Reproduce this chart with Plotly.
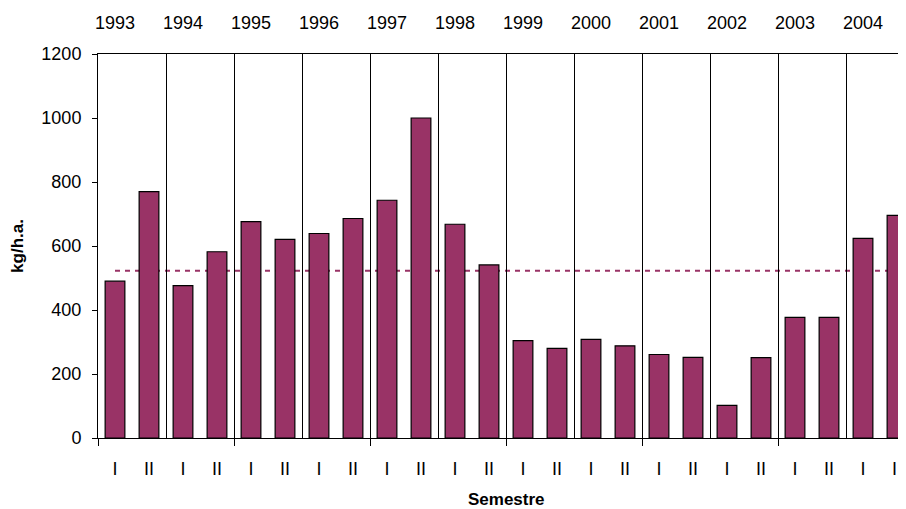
import plotly.graph_objects as go

# ── 데이터 ──
YEARS = [1993, 1994, 1995, 1996, 1997, 1998, 1999, 2000, 2001, 2002, 2003, 2004]
SEMESTRES = ["I", "II"]
VALUES = [
    490, 770,   # 1993
    476, 582,   # 1994
    676, 621,   # 1995
    639, 686,   # 1996
    743, 1000,  # 1997
    668, 541,   # 1998
    304, 280,   # 1999
    308, 288,   # 2000
    261, 252,   # 2001
    102, 251,   # 2002
    377, 377,   # 2003
    624, 696,   # 2004
]
REFERENCE = 523
Y_TICKS = [0, 200, 400, 600, 800, 1000, 1200]

BAR_COLOR = "#993366"
FONT = "Liberation Sans, Arial, sans-serif"

n = len(VALUES)
x_idx = list(range(n))
sem_labels = [SEMESTRES[i % 2] for i in x_idx]
year_pos = [i * 2 for i in range(len(YEARS))]
year_bounds = [i * 2 - 0.5 for i in range(1, len(YEARS))]
tick_bounds = [i * 4 - 0.5 for i in range(len(YEARS) // 2)]
x_range = [-0.5, n - 0.5]

fig = go.Figure()
fig.add_trace(go.Bar(
    x=x_idx,
    y=VALUES,
    width=0.58,
    marker=dict(color=BAR_COLOR, line=dict(color="black", width=1.2)),
    showlegend=False,
    hoverinfo="y",
))

# 보조 축을 그리기 위한 빈 트레이스
for ax in ["x2", "x3", "x4"]:
    fig.add_trace(go.Scatter(
        x=[], y=[], xaxis=ax, yaxis="y",
        mode="markers", showlegend=False, hoverinfo="skip",
    ))

# 기준선 (막대 뒤)
fig.add_shape(
    type="line", xref="x", yref="y",
    x0=x_idx[0], x1=x_idx[-1], y0=REFERENCE, y1=REFERENCE,
    line=dict(color=BAR_COLOR, width=2, dash="5px,5px"),
    layer="below",
)

axis_font = dict(family=FONT, size=18, color="black")

fig.update_layout(
    width=906, height=501,
    paper_bgcolor="white", plot_bgcolor="white",
    margin=dict(l=90, r=0, t=46, b=71),
    font=axis_font,
    xaxis=dict(
        range=x_range, automargin=False,
        tickvals=x_idx, ticktext=sem_labels,
        ticks="", showgrid=False, zeroline=False,
        showline=True, linecolor="black", linewidth=1, mirror=True,
        ticklabelstandoff=14,
        tickfont=axis_font,
    ),
    xaxis2=dict(
        overlaying="x", side="top", matches="x", automargin=False,
        tickvals=year_pos, ticktext=[str(y) for y in YEARS],
        ticks="", showgrid=False, zeroline=False, showline=False,
        ticklabelstandoff=20,
        tickfont=axis_font,
    ),
    xaxis3=dict(
        overlaying="x", side="bottom", matches="x", automargin=False,
        tickvals=year_bounds, showticklabels=False, ticks="",
        showgrid=True, gridcolor="black", gridwidth=1,
        zeroline=False, showline=False,
    ),
    xaxis4=dict(
        overlaying="x", side="bottom", matches="x", automargin=False,
        tickvals=tick_bounds, showticklabels=False,
        ticks="outside", ticklen=7, tickcolor="black", tickwidth=1,
        showgrid=False, zeroline=False, showline=False,
    ),
    yaxis=dict(
        range=[0, 1200], tickvals=Y_TICKS, automargin=False,
        ticks="outside", ticklen=5, tickcolor="black",
        showgrid=False, zeroline=False,
        showline=True, linecolor="black", linewidth=1,
        ticklabelstandoff=7,
        title=dict(text="<b>kg/h.a.</b>", font=dict(family=FONT, size=17), standoff=20),
        tickfont=axis_font,
    ),
    annotations=[dict(
        text="<b>Semestre</b>", xref="paper", yref="paper",
        x=0.5, y=0, yanchor="middle", yshift=-61, showarrow=False,
        font=dict(family=FONT, size=17, color="black"),
    )],
)

fig.write_html("out.html")
